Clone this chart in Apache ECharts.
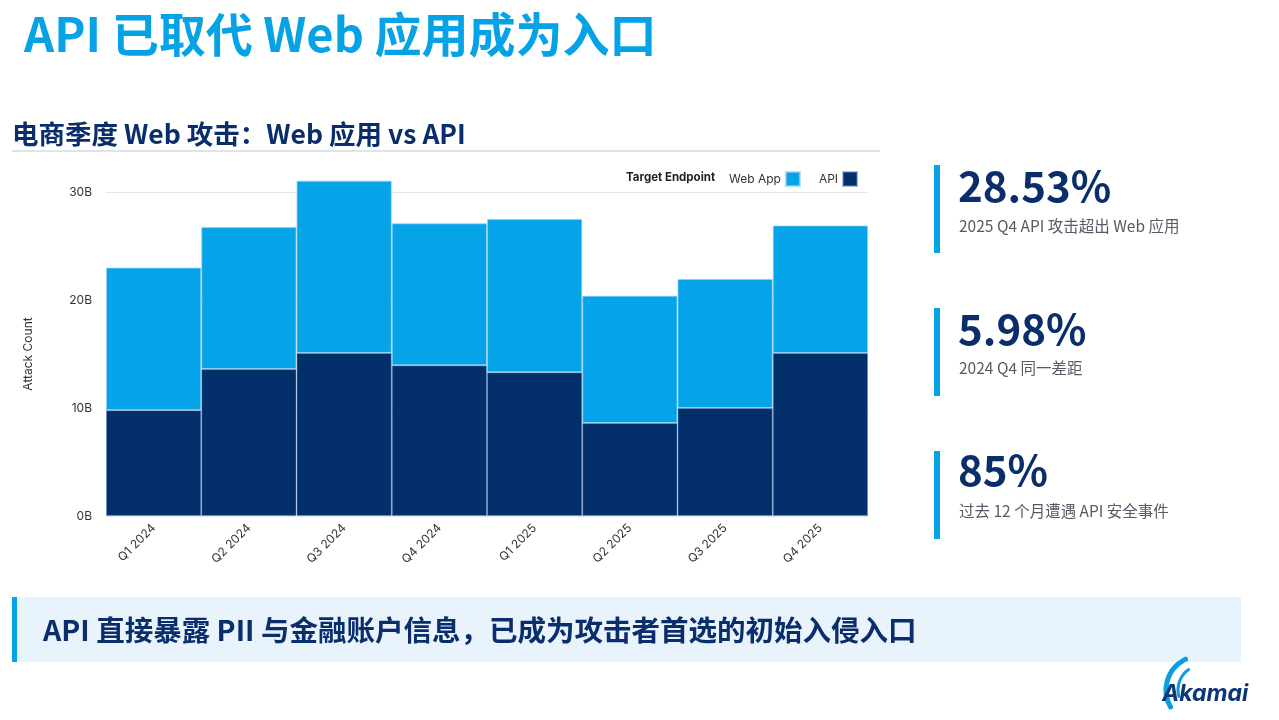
<!DOCTYPE html>
<html>
<head>
<meta charset="utf-8">
<script src="https://cdn.jsdelivr.net/npm/echarts@6/dist/echarts.min.js"></script>
<style>
html,body{margin:0;padding:0;background:#fff;}
#c{width:1279px;height:720px;}
</style>
</head>
<body>
<div id="c"></div>
<script>
const categories = ['Q1 2024','Q2 2024','Q3 2024','Q4 2024','Q1 2025','Q2 2025','Q3 2025','Q4 2025'];
const apiValues = [9.8, 13.6, 15.1, 13.95, 13.3, 8.6, 10.0, 15.1];
const webAppValues = [13.2, 13.15, 15.95, 13.15, 14.2, 11.8, 11.95, 11.8];
const yTicks = [0, 10, 20, 30];
const stats = [
  {value: '28.53%', caption: '2025 Q4 API 攻击超出 Web 应用'},
  {value: '5.98%', caption: '2024 Q4 同一差距'},
  {value: '85%', caption: '过去 12 个月遭遇 API 安全事件'}
];

const CJK = '"Noto Sans CJK SC", "Noto Sans", sans-serif';
const LAT = 'Inter, "Noto Sans", sans-serif';
const NAVY = '#0a2d6b';
const BLUE = '#05a3e8';
const DARK = '#03306b';

const chart = echarts.init(document.getElementById('c'), null, {renderer: 'canvas'});

const statTops = [165, 308, 451];
const statNumY = [186, 329, 470];
const statCapY = [226, 368, 511];
const statGraphics = [];
stats.forEach((s, i) => {
  statGraphics.push({type: 'rect', left: 934, top: statTops[i], shape: {width: 6, height: 88}, style: {fill: BLUE}});
  statGraphics.push({type: 'text', x: 958, y: statNumY[i], style: {text: s.value, font: 'bold 42px ' + CJK, fill: NAVY, textVerticalAlign: 'middle'}});
  statGraphics.push({type: 'text', x: 959, y: statCapY[i], style: {text: s.caption, font: '15.5px ' + CJK, fill: '#555a64', textVerticalAlign: 'middle'}});
});

chart.setOption({
  animation: false,
  backgroundColor: '#ffffff',
  grid: {left: 106, right: 411, top: 192, bottom: 204, containLabel: false},
  legend: {
    data: ['Web App', 'API'],
    left: 724, top: 166,
    align: 'right',
    icon: 'rect',
    itemWidth: 14, itemHeight: 14, itemGap: 18,
    textStyle: {fontFamily: LAT, fontSize: 12, color: '#333'}
  },
  xAxis: {
    type: 'category',
    data: categories,
    axisLine: {show: false},
    axisTick: {show: false},
    axisLabel: {rotate: 45, margin: 10, fontFamily: LAT, fontSize: 12, color: '#333'}
  },
  yAxis: {
    type: 'value',
    min: 0, max: 30, interval: 10,
    name: 'Attack Count',
    nameLocation: 'middle',
    nameGap: 72,
    nameTextStyle: {fontFamily: LAT, fontSize: 12, color: '#333'},
    axisLine: {show: false},
    axisTick: {show: false},
    axisLabel: {fontFamily: LAT, fontSize: 12, color: '#333', margin: 14, formatter: v => v + 'B'},
    splitLine: {lineStyle: {color: '#e4e6ea', width: 1}}
  },
  series: [
    {
      name: 'API', type: 'bar', stack: 'total', data: apiValues,
      barCategoryGap: '0%', clip: false,
      itemStyle: {color: DARK, borderColor: 'rgba(90,130,190,0.5)', borderWidth: 1}
    },
    {
      name: 'Web App', type: 'bar', stack: 'total', data: webAppValues,
      barCategoryGap: '0%', clip: false,
      itemStyle: {color: BLUE, borderColor: 'rgba(150,210,245,0.7)', borderWidth: 1}
    }
  ],
  graphic: [
    {type: 'text', x: 24, y: 34, style: {text: 'API 已取代 Web 应用成为入口', font: 'bold 47px ' + CJK, fill: '#06a2e6', textVerticalAlign: 'middle'}},
    {type: 'text', x: 12, y: 134, style: {text: '电商季度 Web 攻击：Web 应用 vs API', font: 'bold 26.5px ' + CJK, fill: NAVY, textVerticalAlign: 'middle'}},
    {type: 'rect', left: 12, top: 150, shape: {width: 868, height: 2}, style: {fill: '#dfe4ec'}},
    {type: 'text', x: 626, y: 178, style: {text: 'Target Endpoint', font: 'bold 11.5px ' + LAT, fill: '#222', textVerticalAlign: 'middle'}},
    ...statGraphics,
    {type: 'rect', left: 12, top: 597, shape: {width: 1229, height: 65}, style: {fill: '#e8f3fb'}},
    {type: 'rect', left: 12, top: 597, shape: {width: 5, height: 65}, style: {fill: BLUE}},
    {type: 'text', x: 43, y: 630, style: {text: 'API 直接暴露 PII 与金融账户信息，已成为攻击者首选的初始入侵入口', font: 'bold 28.5px ' + CJK, fill: NAVY, textVerticalAlign: 'middle'}},
    {type: 'arc', shape: {cx: 1200, cy: 690, r: 34, startAngle: Math.PI * 150 / 180, endAngle: Math.PI * 245 / 180, clockwise: true}, style: {stroke: '#0a9ee0', lineWidth: 5, fill: null, lineCap: 'round'}},
    {type: 'arc', shape: {cx: 1203, cy: 690, r: 25, startAngle: Math.PI * 165 / 180, endAngle: Math.PI * 235 / 180, clockwise: true}, style: {stroke: '#0a9ee0', lineWidth: 3, fill: null, lineCap: 'round'}},
    {type: 'text', x: 1162, y: 694, style: {text: 'Akamai', font: 'italic bold 23px ' + LAT, fill: '#0b3776', textVerticalAlign: 'middle'}}
  ]
});
</script>
</body>
</html>
